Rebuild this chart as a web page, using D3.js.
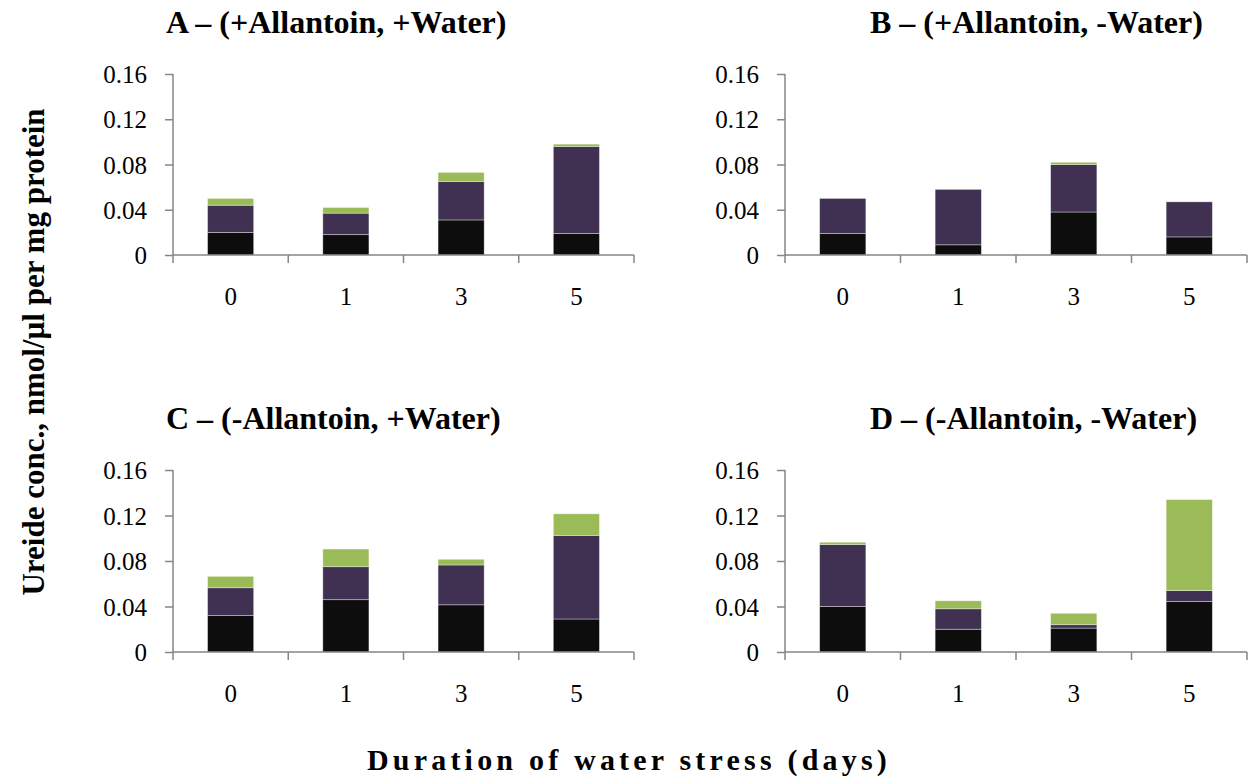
<!DOCTYPE html>
<html lang="en">
  <head>
    <title>Ureide concentration - stacked bars</title>
    <meta charset="utf-8" />
    <script type="text/javascript" src="https://d3js.org/d3.v7.min.js"></script>
    <style>
      body { margin: 0; background: #fff; }
      svg text { font-family: "Liberation Serif", "Times New Roman", Times, serif; }
    </style>
  </head>

  <body>
    <div class="div_d3"></div>

    <script type="text/javascript">
      let w = 1249;
      let h = 780;

      // days of water stress
      let categories = ["0", "1", "3", "5"];
      let yTicks = [0, 0.04, 0.08, 0.12, 0.16];
      let keys = ["black", "purple", "green"];
      let colors = ["#0d0d0d", "#403152", "#9bbb59"];

      let titles = [
        "A \u2013 (+Allantoin, +Water)",
        "B \u2013 (+Allantoin, -Water)",
        "C \u2013 (-Allantoin, +Water)",
        "D \u2013 (-Allantoin, -Water)",
      ];

      // segment values, bottom to top
      let blackA = [0.02, 0.018, 0.031, 0.019];
      let purpleA = [0.024, 0.019, 0.034, 0.077];
      let greenA = [0.006, 0.005, 0.008, 0.002];

      let blackB = [0.019, 0.009, 0.038, 0.016];
      let purpleB = [0.031, 0.049, 0.042, 0.031];
      let greenB = [0, 0, 0.002, 0];

      let blackC = [0.032, 0.046, 0.0415, 0.029];
      let purpleC = [0.0245, 0.029, 0.035, 0.0735];
      let greenC = [0.01, 0.0155, 0.005, 0.019];

      let blackD = [0.04, 0.02, 0.021, 0.0445];
      let purpleD = [0.0545, 0.018, 0.003, 0.0095];
      let greenD = [0.002, 0.007, 0.01, 0.08];

      let series = [
        [blackA, purpleA, greenA],
        [blackB, purpleB, greenB],
        [blackC, purpleC, greenC],
        [blackD, purpleD, greenD],
      ];

      // panel frames: left, right, top, bottom
      let frames = [
        { l: 173, r: 634, t: 74, b: 255, tx: 166 },
        { l: 785, r: 1247, t: 74, b: 255, tx: 870 },
        { l: 173, r: 634, t: 470, b: 652, tx: 166 },
        { l: 785, r: 1247, t: 470, b: 652, tx: 870 },
      ];

      let axisColor = "#868686";

      let svg = d3
        .select(".div_d3")
        .append("svg")
        .attr("width", w)
        .attr("height", h);

      frames.forEach(function (f, p) {
        let rows = categories.map(function (c, i) {
          let row = { cat: c };
          keys.forEach(function (k, j) {
            row[k] = series[p][j][i];
          });
          return row;
        });

        let stacked = d3.stack().keys(keys)(rows);

        let x = d3
          .scaleBand()
          .domain(categories)
          .range([f.l, f.r])
          .paddingInner(0.6)
          .paddingOuter(0.3);

        let y = d3.scaleLinear().domain([0, 0.16]).range([f.b, f.t]);

        let g = svg.append("g");

        // bars
        g.selectAll("g.layer")
          .data(stacked)
          .join("g")
          .attr("class", "layer")
          .attr("fill", function (d, i) {
            return colors[i];
          })
          .selectAll("rect")
          .data(function (d) {
            return d.filter(function (s) {
              return s[1] - s[0] > 0;
            });
          })
          .join("rect")
          .attr("x", function (d) {
            return x(d.data.cat);
          })
          .attr("y", function (d) {
            return y(d[1]);
          })
          .attr("width", x.bandwidth())
          .attr("height", function (d) {
            return y(d[0]) - y(d[1]);
          })
          .attr("stroke", "#ffffff")
          .attr("stroke-opacity", 0.45)
          .attr("stroke-width", 0.8);

        // y axis
        let yAxis = g
          .append("g")
          .attr("transform", `translate(${f.l},0)`)
          .call(
            d3
              .axisLeft(y)
              .tickValues(yTicks)
              .tickSize(8)
              .tickPadding(18)
              .tickFormat(function (d) {
                return d === 0 ? "0" : d3.format(".2f")(d);
              })
          );
        yAxis.attr("font-family", null);
        yAxis.select(".domain").attr("stroke", axisColor).attr("stroke-width", 1.5)
          .attr("d", `M0,${f.t}V${f.b}`);
        yAxis.selectAll(".tick line").attr("stroke", axisColor).attr("stroke-width", 1.5);
        yAxis
          .selectAll(".tick text")
          .attr("fill", "#000")
          .style("font-size", "25px")
          .attr("dy", "0.34em");

        // x axis line with boundary ticks
        let bounds = categories.map(function (c) {
          return x(c) - x.step() * 0.3;
        });
        bounds.push(f.r);
        g.append("line")
          .attr("x1", f.l)
          .attr("x2", f.r)
          .attr("y1", f.b)
          .attr("y2", f.b)
          .attr("stroke", axisColor)
          .attr("stroke-width", 1.5);
        g.selectAll("line.xt")
          .data(bounds)
          .join("line")
          .attr("class", "xt")
          .attr("x1", function (d) {
            return d;
          })
          .attr("x2", function (d) {
            return d;
          })
          .attr("y1", f.b)
          .attr("y2", f.b + 8)
          .attr("stroke", axisColor)
          .attr("stroke-width", 1.5);

        // category labels
        g.selectAll("text.xl")
          .data(categories)
          .join("text")
          .attr("class", "xl")
          .attr("x", function (d) {
            return x(d) + x.bandwidth() / 2;
          })
          .attr("y", f.b + 50)
          .attr("text-anchor", "middle")
          .style("font-size", "25px")
          .text(function (d) {
            return d;
          });

        // panel title
        g.append("text")
          .attr("x", f.tx)
          .attr("y", f.t - 41)
          .style("font-size", "32px")
          .style("font-weight", "bold")
          .text(titles[p]);
      });

      // y axis title
      svg
        .append("text")
        .attr("transform", "translate(44,352) rotate(-90)")
        .attr("text-anchor", "middle")
        .style("font-size", "31px")
        .style("font-weight", "bold")
        .text("Ureide conc., nmol/\u00b5l per mg protein");

      // x axis title
      svg
        .append("text")
        .attr("x", 629)
        .attr("y", 770)
        .attr("text-anchor", "middle")
        .style("font-size", "30px")
        .style("font-weight", "bold")
        .style("letter-spacing", "4.2px")
        .text("Duration of water stress (days)");
    </script>
  </body>
</html>
